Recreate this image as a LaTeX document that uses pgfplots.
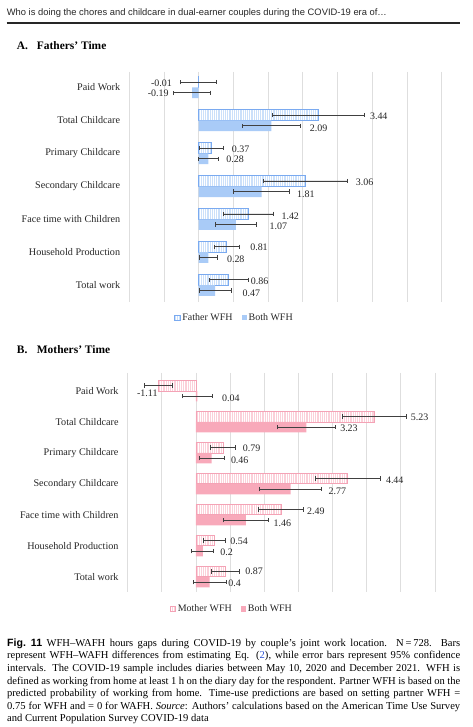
\documentclass[border=0pt]{standalone}
\usepackage{pgfplots}
\pgfplotsset{compat=1.18}
\usepackage{pgfplotstable}
\usetikzlibrary{patterns.meta}
\usepackage{fontspec}
\setmainfont{Liberation Serif}
\setsansfont{Liberation Sans}

\definecolor{bborder}{HTML}{7AAAF0}
\definecolor{bfill}{HTML}{A9CBF7}
\definecolor{pborder}{HTML}{F4A3B6}
\definecolor{pfill}{HTML}{F8A9BA}
\definecolor{errc}{HTML}{404040}
\definecolor{linkblue}{HTML}{2F55D4}

% cat val err lx ly
\pgfplotstableread{
cat val err lx ly
0 -0.01 0.53 -1.38 -0.14
1 3.44 1.33 4.93 0.86
2 0.37 0.34 0.95 1.86
3 3.06 1.21 4.52 2.87
4 1.42 0.72 2.38 3.91
5 0.81 0.35 1.48 4.86
6 0.86 0.56 1.50 5.87
}\fatherA
\pgfplotstableread{
cat val err lx ly
0 -0.19 0.54 -1.47 0.19
1 2.09 0.83 3.20 1.23
2 0.28 0.30 0.79 2.19
3 1.81 0.81 2.83 3.24
4 1.07 0.58 2.04 4.20
5 0.28 0.27 0.81 5.20
6 0.47 0.46 1.26 6.25
}\bothA
\pgfplotstableread{
cat val err lx ly
0 -1.11 0.41 -1.73 0.06
1 5.23 0.93 6.29 0.86
2 0.79 0.36 1.37 1.85
3 4.44 0.95 5.56 2.88
4 2.49 0.66 3.25 3.88
5 0.54 0.32 1.00 4.85
6 0.87 0.41 1.44 5.82
}\motherB
\pgfplotstableread{
cat val err lx ly
0 0.04 0.45 0.76 0.24
1 3.23 0.85 4.22 1.22
2 0.46 0.36 1.02 2.23
3 2.77 0.90 3.88 3.23
4 1.46 0.67 2.27 4.26
5 0.2 0.32 0.71 5.21
6 0.4 0.48 0.94 6.21
}\bothB

\pgfplotsset{
  panel/.style={
    scale only axis, clip=false,
    xmin=-2, xmax=7, y dir=reverse,
    xtick={-2,-1,0,1,2,3,4,5,6,7}, xticklabels={},
    xmajorgrids=true, grid style={draw=black!13, line width=0.9bp},
    axis line style={draw=none}, major tick length=0pt,
    ytick={0,1,2,3,4,5,6},
    yticklabels={Paid Work,Total Childcare,Primary Childcare,Secondary Childcare\ ,Face time with Children,Household Production,Total work},
    yticklabel style={anchor=east, inner sep=0pt, xshift=-9bp, font=\fontsize{10.2}{12}\selectfont, text=black!85},
    legend style={draw=none, fill=none, legend columns=2, anchor=center,
      font=\fontsize{10}{12}\selectfont, text=black!85,
      /tikz/every even column/.append style={column sep=7bp}},
    legend image code/.code={\path[##1] (0bp,-2.6bp) rectangle (5.2bp,2.6bp);},
  },
  errs/.style={error bars/.cd, x dir=both, x explicit,
    error bar style={errc, line width=0.8bp},
    error mark options={errc, line width=0.8bp, mark size=2.2bp, rotate=90}},
  lbl/.style={draw=none, forget plot, nodes near coords, point meta=explicit symbolic,
    nodes near coords style={anchor=west, inner sep=0pt, font=\fontsize{10}{12}\selectfont, text=black!85}},
}

\begin{document}
\begin{tikzpicture}
\path[use as bounding box] (0,0) rectangle (473bp,727bp);

% header
\node[anchor=base west, inner sep=0pt, font=\sffamily\fontsize{9.4}{11}\selectfont, text=black!85] at (6.7bp,711bp)
  {Who is doing the chores and childcare in dual-earner couples during the COVID-19 era of…};
\draw[line width=2bp, black!85] (6.7bp,703.7bp) -- (460bp,703.7bp);

% panel titles
\node[anchor=base west, inner sep=0pt, font=\bfseries\fontsize{11.5}{14}\selectfont] at (16.7bp,677.5bp) {A.};
\node[anchor=base west, inner sep=0pt, font=\bfseries\fontsize{11.5}{14}\selectfont] at (36.7bp,677.5bp) {Fathers’ Time};
\node[anchor=base west, inner sep=0pt, font=\bfseries\fontsize{11.5}{14}\selectfont] at (16.7bp,373bp) {B.};
\node[anchor=base west, inner sep=0pt, font=\bfseries\fontsize{11.5}{14}\selectfont] at (36.7bp,373bp) {Mothers’ Time};

% Panel A
\begin{axis}[panel, at={(129.3bp,655bp)}, anchor=north west,
  width=312.4bp, height=230bp, ymin=-0.47, ymax=6.51,
  legend style={at={(axis description cs:0.337,-0.068)}}]
\addplot[xbar, bar width=0.325, bar shift=0pt, draw=bborder, line width=0.8bp, fill=bfill!60,
  postaction={pattern={Lines[angle=90,distance=2.2bp,line width=0.8bp]}, pattern color=white},
  errs] table[x=val, y expr=\thisrow{cat}-0.1625, x error=err] {\fatherA};
\addlegendentry{Father WFH}
\addplot[xbar, bar width=0.325, bar shift=0pt, draw=none, fill=bfill, errs]
  table[x=val, y expr=\thisrow{cat}+0.1625, x error=err] {\bothA};
\addlegendentry{Both WFH}
\addplot[lbl] table[x=lx, y=ly, meta=val] {\fatherA};
\addplot[lbl] table[x=lx, y=ly, meta=val] {\bothA};
\end{axis}

% Panel B
\begin{axis}[panel, at={(127.7bp,354bp)}, anchor=north west,
  width=307.3bp, height=219bp, ymin=-0.58, ymax=6.49,
  legend style={at={(axis description cs:0.339,-0.078)}}]
\addplot[xbar, bar width=0.34, bar shift=0pt, draw=pborder, line width=0.8bp, fill=pfill!55,
  postaction={pattern={Lines[angle=90,distance=2.2bp,line width=0.8bp]}, pattern color=white},
  errs] table[x=val, y expr=\thisrow{cat}-0.17, x error=err] {\motherB};
\addlegendentry{Mother WFH}
\addplot[xbar, bar width=0.34, bar shift=0pt, draw=none, fill=pfill, errs]
  table[x=val, y expr=\thisrow{cat}+0.17, x error=err] {\bothB};
\addlegendentry{Both WFH}
\addplot[lbl] table[x=lx, y=ly, meta=val] {\motherB};
\addplot[lbl] table[x=lx, y=ly, meta=val] {\bothB};
\end{axis}

% caption
\node[anchor=north west, inner sep=0pt, text width=453bp, align=justify,
  font=\fontsize{10.6}{12.6}\selectfont] at (7bp,88.5bp) {%
\tolerance=9999\emergencystretch=3em
{\sffamily\bfseries Fig.~11} WFH–WAFH hours gaps during COVID-19 by couple’s joint work location. N\,=\,728. Bars\linebreak
represent WFH–WAFH differences from estimating Eq. (\textcolor{linkblue}{2}), while error bars represent 95\% confidence\linebreak
intervals. The COVID-19 sample includes diaries between May 10, 2020 and December 2021. WFH is\linebreak
defined as working from home at least 1 h on the diary day for the respondent. Partner WFH is based on the\linebreak
predicted probability of working from home. Time-use predictions are based on setting partner WFH =\linebreak
0.75 for WFH and = 0 for WAFH. \textit{Source}: Authors’ calculations based on the American Time Use Survey\linebreak
and Current Population Survey COVID-19 data};
\end{tikzpicture}
\end{document}
